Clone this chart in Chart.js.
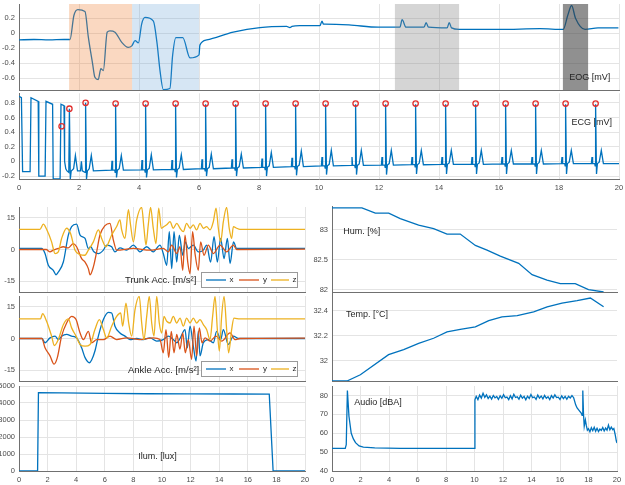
<!DOCTYPE html>
<html><head><meta charset="utf-8">
<script src="https://cdn.jsdelivr.net/npm/chart.js@4/dist/chart.umd.min.js"></script>
<style>
html,body{margin:0;padding:0;background:#fff;overflow:hidden;width:625px;height:485px;position:relative}
canvas{position:absolute}
</style></head><body>
<script>
// ---------------- DATA ----------------
const xTicks = [0,2,4,6,8,10,12,14,16,18,20];
const eogTicks = [-0.6,-0.4,-0.2,0,0.2];
const ecgTicks = [-0.2,0,0.2,0.4,0.6,0.8];
const accTicks = [-15,0,15];
const illumTicks = [0,1000,2000,3000,4000,5000];
const humTicks = [82,82.5,83];
const tempTicks = [32,32.2,32.4];
const audioTicks = [40,50,60,70,80];

const eogBands = [[1.67,3.77],[3.77,6.0],[12.53,14.67],[18.13,18.97]];

const eogPts = [[0,-0.09],[0.5,-0.085],[1.0,-0.09],[1.5,-0.085],[1.7,-0.085],[1.83,0.236],[1.96,0.316],[2.2,0.29],[2.31,-0.05],[2.45,-0.4],[2.53,-0.59],[2.64,-0.62],[2.73,-0.475],[2.81,-0.5],[2.94,0.013],[3.03,0.03],[3.2,0.013],[3.42,-0.12],[3.64,-0.19],[3.76,-0.17],[3.87,-0.1],[3.98,-0.13],[4.09,0.125],[4.2,0.21],[4.48,0.16],[4.6,-0.13],[4.7,-0.5],[4.81,-0.755],[5.03,-0.74],[5.12,-0.3],[5.23,-0.06],[5.46,-0.06],[5.7,-0.33],[6.0,-0.29],[6.03,-0.16],[6.26,-0.09],[7.14,0.013],[8.03,0.075],[8.92,0.09],[9.03,0.075],[9.1,0.09],[9.36,0.1],[10.03,0.1],[10.1,0.16],[10.15,0.12],[10.2,0.12],[11.0,0.11],[11.98,0.08],[12.7,0.08],[12.77,0.18],[12.9,0.08],[13.5,0.08],[13.57,0.14],[13.65,0.08],[14.27,0.07],[14.34,0.14],[14.42,0.07],[14.67,0.05],[16.03,0.05],[17.37,0.06],[18.14,0.05],[18.3,0.25],[18.42,0.37],[18.55,0.2],[18.87,0.05],[19.3,0.07],[19.98,0.07]];

const ecgPts = [[0,0.89],[0.08,0.87],[0.12,-0.14],[0.37,-0.14],[0.4,0.87],[0.64,0.82],[0.66,-0.2],[0.87,-0.2],[0.9,0.82],[1.12,0.78],[1.14,-0.24],[1.37,-0.24],[1.4,0.78],[1.5,0.76],[1.52,0.0],[1.56,-0.1],[1.6,-0.13],[1.66,-0.15],[1.68,0.72],[1.71,-0.24],[1.74,-0.13],[1.82,-0.1],[1.88,0.08],[1.95,-0.13],[2.05,-0.13],[2.08,0.0],[2.11,-0.13],[2.2,-0.15],[2.22,0.8],[2.25,-0.24],[2.28,-0.13],[2.34,-0.1],[2.41,0.08],[2.48,-0.13],
[3.08,-0.12],[3.1,0.01],[3.12,-0.12],[3.19,-0.12],[3.205,-0.15],[3.22,0.78],[3.25,-0.22],[3.28,-0.12],[3.34,-0.1],[3.41,0.08],[3.48,-0.12],
[4.08,-0.115],[4.1,0.02],[4.12,-0.115],[4.19,-0.115],[4.205,-0.145],[4.22,0.78],[4.25,-0.22],[4.28,-0.115],[4.34,-0.095],[4.41,0.09],[4.48,-0.115],
[5.08,-0.11],[5.1,0.02],[5.12,-0.11],[5.19,-0.11],[5.205,-0.14],[5.22,0.78],[5.25,-0.22],[5.28,-0.11],[5.34,-0.09],[5.41,0.09],[5.48,-0.11],
[6.08,-0.1],[6.1,0.03],[6.12,-0.1],[6.19,-0.1],[6.205,-0.13],[6.22,0.78],[6.25,-0.2],[6.28,-0.1],[6.34,-0.08],[6.41,0.1],[6.48,-0.1],
[7.08,-0.09],[7.1,0.03],[7.12,-0.09],[7.19,-0.09],[7.205,-0.12],[7.22,0.78],[7.25,-0.2],[7.28,-0.09],[7.34,-0.07],[7.41,0.1],[7.48,-0.09],
[8.08,-0.08],[8.1,0.04],[8.12,-0.08],[8.19,-0.08],[8.205,-0.11],[8.22,0.78],[8.25,-0.2],[8.28,-0.08],[8.34,-0.06],[8.41,0.12],[8.48,-0.08],
[9.08,-0.07],[9.1,0.05],[9.12,-0.07],[9.19,-0.07],[9.205,-0.1],[9.22,0.78],[9.25,-0.19],[9.28,-0.07],[9.34,-0.05],[9.41,0.14],[9.48,-0.07],
[10.08,-0.06],[10.1,0.06],[10.12,-0.06],[10.19,-0.06],[10.205,-0.09],[10.22,0.78],[10.25,-0.18],[10.28,-0.06],[10.34,-0.04],[10.41,0.15],[10.48,-0.06],
[11.08,-0.055],[11.1,0.06],[11.12,-0.055],[11.19,-0.055],[11.205,-0.085],[11.22,0.78],[11.25,-0.18],[11.28,-0.055],[11.34,-0.035],[11.41,0.15],[11.48,-0.055],
[12.08,-0.05],[12.1,0.06],[12.12,-0.05],[12.19,-0.05],[12.205,-0.08],[12.22,0.78],[12.25,-0.18],[12.28,-0.05],[12.34,-0.03],[12.41,0.15],[12.48,-0.05],
[13.08,-0.045],[13.1,0.06],[13.12,-0.045],[13.19,-0.045],[13.205,-0.075],[13.22,0.78],[13.25,-0.17],[13.28,-0.045],[13.34,-0.025],[13.41,0.15],[13.48,-0.045],
[14.08,-0.04],[14.1,0.06],[14.12,-0.04],[14.19,-0.04],[14.205,-0.07],[14.22,0.78],[14.25,-0.17],[14.28,-0.04],[14.34,-0.02],[14.41,0.15],[14.48,-0.04],
[15.08,-0.04],[15.1,0.06],[15.12,-0.04],[15.19,-0.04],[15.205,-0.07],[15.22,0.78],[15.25,-0.17],[15.28,-0.04],[15.34,-0.02],[15.41,0.15],[15.48,-0.04],
[16.08,-0.035],[16.1,0.06],[16.12,-0.035],[16.19,-0.035],[16.205,-0.065],[16.22,0.78],[16.25,-0.17],[16.28,-0.035],[16.34,-0.015],[16.41,0.15],[16.48,-0.035],
[17.08,-0.035],[17.1,0.06],[17.12,-0.035],[17.19,-0.035],[17.205,-0.065],[17.22,0.78],[17.25,-0.17],[17.28,-0.035],[17.34,-0.015],[17.41,0.15],[17.48,-0.035],
[18.08,-0.03],[18.1,0.06],[18.12,-0.03],[18.19,-0.03],[18.205,-0.06],[18.22,0.78],[18.25,-0.17],[18.28,-0.03],[18.34,-0.01],[18.41,0.15],[18.48,-0.03],
[19.08,-0.03],[19.1,0.06],[19.12,-0.03],[19.19,-0.03],[19.205,-0.06],[19.22,0.78],[19.25,-0.17],[19.28,-0.03],[19.34,-0.01],[19.41,0.15],[19.48,-0.03],
[20,-0.03]];

const ecgPeaks = [[1.42,0.48],[1.68,0.72],[2.22,0.8],[3.22,0.79],[4.22,0.79],[5.22,0.79],[6.22,0.79],[7.22,0.79],[8.22,0.79],[9.22,0.79],[10.22,0.79],[11.22,0.79],[12.22,0.79],[13.22,0.79],[14.22,0.79],[15.22,0.79],[16.22,0.79],[17.22,0.79],[18.22,0.79],[19.22,0.79]];

const trunkX = [[0,0.5],[1.58,0.5],[1.82,-1.9],[2.05,-7.4],[2.4,-9.8],[2.59,-11.9],[2.75,-10.6],[3.1,-5.9],[3.45,6.8],[3.68,10.8],[4.03,11.9],[4.27,6.8],[4.62,5.2],[4.85,0.5],[5.01,1.3],[5.24,-1.1],[5.55,-1.9],[5.9,-0.3],[6.13,2.1],[6.48,1.3],[6.71,-1.1],[7.06,0.8],[7.53,-0.3],[8.0,2.1],[8.46,-1.1],[8.93,1.3],[9.39,-1.1],[9.86,2.1],[10.09,-1.9],[10.33,-7.4],[10.51,8.4],[10.68,-9],[10.84,8.4],[11.03,-5.9],[11.21,6.8],[11.45,-2.7],[11.63,3.6],[11.84,0.5],[12.19,2.1],[12.54,-1.1],[12.89,-0.3],[13.12,2.1],[13.4,-5.9],[13.64,6],[13.87,-5.9],[14.1,5.2],[14.34,-4.3],[14.57,5.2],[14.76,-6.6],[15.0,3.6],[15.22,0.5],[20,0.5]];
const trunkY = [[0,0],[1.9,0],[2.17,-1.1],[2.4,-0.3],[2.75,0.5],[3.1,1.3],[3.45,0.8],[3.8,2.8],[4.03,1.3],[4.38,-4.3],[4.62,-5.9],[4.85,-9],[4.97,-11.9],[5.2,-8.2],[5.43,-1.1],[5.66,6.8],[6.01,11.2],[6.36,12.3],[6.6,4.4],[6.83,-0.3],[8,0.5],[9.16,-0.3],[10.09,0.5],[10.44,-1.1],[10.68,2.1],[11.03,-1.9],[11.26,1.3],[11.45,-9.8],[11.61,6.8],[11.8,-5.9],[11.96,-11.4],[12.14,8.4],[12.31,-1.9],[12.54,-9.8],[12.7,3.6],[12.94,-2.7],[13.24,2.1],[13.59,-1.9],[14.06,2.1],[14.52,-1.1],[14.99,2.1],[15.22,0],[20,0.2]];
const trunkZ = [[0,9.5],[1.47,9.5],[1.7,11.9],[1.93,9.5],[2.28,3.6],[2.52,-1.9],[2.75,-1.1],[2.98,5.2],[3.33,10],[3.6,7.6],[3.92,-0.3],[4.27,-2.4],[4.6,-2.7],[4.85,-0.3],[5.2,3.6],[5.55,9.2],[5.78,5.2],[6.08,1.3],[6.48,6.8],[6.83,10.8],[7.06,13.9],[7.18,9.2],[7.41,5.2],[7.65,18.7],[7.8,11.6],[8.0,3.6],[8.23,13.9],[8.58,19.8],[8.74,10],[8.88,2.1],[9.04,11.6],[9.2,19.8],[9.39,10],[9.58,2.8],[9.77,19.5],[9.95,10],[10.14,10.8],[10.33,11.6],[10.56,13.1],[10.79,10],[11.03,12.3],[11.26,10],[11.49,8.4],[11.72,12.3],[11.96,10],[12.19,11.6],[12.42,9.2],[12.66,12.3],[12.89,10],[13.12,10.8],[13.36,9.2],[13.59,13.1],[13.78,19.5],[13.94,10],[14.1,3.6],[14.29,13.1],[14.52,19.8],[14.7,10],[14.87,5.2],[14.99,10.8],[15.22,10],[15.45,9.5],[20,9.5]];

const ankleX = [[0,0],[1.6,0],[1.82,-2],[2.17,0.3],[2.52,1.1],[2.75,-0.5],[2.98,1.1],[3.33,1.9],[3.68,1.1],[4.03,0.3],[4.38,-4.4],[4.62,-9],[4.92,-11.4],[5.08,-10.1],[5.31,-5.9],[5.55,1.1],[5.9,8.9],[6.25,12.3],[6.48,12],[6.71,5.8],[7.06,2.6],[7.41,1.1],[7.76,-0.5],[8.23,0],[8.69,-0.5],[9.16,0.3],[9.63,-1.2],[10.09,-0.5],[10.44,1.1],[10.79,-0.5],[11.03,-2],[11.26,0],[11.61,4.2],[11.77,-4.4],[11.96,5.8],[12.19,-3.6],[12.38,-10.6],[12.54,3.4],[12.66,-8.2],[12.89,-2],[13.24,-0.5],[13.59,-2],[13.82,3.4],[14.1,-0.5],[14.29,4.2],[14.64,-2.8],[14.99,1.1],[15.34,0],[20,0]];
const ankleY = [[0,0],[1.6,0],[1.82,-4.4],[2.17,-8.2],[2.45,-12.1],[2.68,-9],[2.98,1.1],[3.33,7.3],[3.68,10.4],[3.99,8.9],[4.27,2.6],[4.5,-0.5],[4.85,3.4],[5.08,-2],[5.43,-0.5],[5.9,-0.5],[6.36,1.1],[6.83,-0.5],[7.53,0.3],[8.46,-0.5],[9.39,0.3],[9.86,-0.5],[10.09,-6.7],[10.28,4.2],[10.47,-9],[10.65,3.4],[10.84,-6.7],[11.03,1.9],[11.26,-5],[11.45,2.6],[11.63,-6.7],[11.84,-0.5],[12.07,-9.8],[12.24,5.8],[12.42,-8.2],[12.61,5],[12.8,-2],[13.01,0.3],[13.36,-1.2],[13.78,1.1],[14.17,-1.2],[14.76,2.6],[15.1,-0.5],[15.45,0],[20,0.2]];
const ankleZ = [[0,9.2],[1.5,9.2],[1.65,11.7],[1.93,8.1],[2.28,1.1],[2.47,-3.3],[2.75,-0.5],[3.1,6.5],[3.45,9.2],[3.68,5],[3.99,1.1],[4.27,-2.8],[4.62,-3.6],[4.97,-2.8],[5.31,4.2],[5.62,8.9],[5.9,4.2],[6.13,0.3],[6.48,5.8],[6.83,10.4],[7.11,12],[7.25,5.8],[7.48,16.6],[7.67,7.3],[7.88,1.1],[8.11,13.5],[8.41,19.8],[8.58,7.3],[8.74,-0.5],[8.93,10.4],[9.11,19.8],[9.28,7.3],[9.44,1.1],[9.63,19.8],[9.81,7.3],[9.98,2.6],[10.14,10.4],[10.33,8.1],[10.56,7.3],[10.79,10.4],[11.03,7.3],[11.26,9.6],[11.49,5.8],[11.72,9.6],[11.96,7.3],[12.19,9.6],[12.42,7.3],[12.66,8.9],[12.89,6.5],[13.12,4.2],[13.36,-0.5],[13.54,10.4],[13.71,19.8],[13.87,4.2],[14.01,-5.9],[14.17,10.4],[14.34,19.8],[14.52,4.2],[14.66,-6.7],[14.87,4.2],[15.03,9.6],[15.45,9.2],[20,9.2]];

const illumPts = [[0,0],[1.3,0],[1.36,4610],[3,4595],[6,4565],[9,4545],[12,4535],[15,4530],[17.5,4525],[17.77,0],[20,0]];
const humPts = [[0,83.37],[2.1,83.37],[3.04,83.28],[3.98,83.28],[4.79,83.19],[6.08,83.08],[7.13,83.02],[8.07,82.93],[9.0,82.93],[10.06,82.74],[10.88,82.66],[11.81,82.56],[13.1,82.44],[14.04,82.25],[15.09,82.16],[16.02,82.1],[17.07,82.1],[18.0,82.0],[19.06,81.96]];
const tempPts = [[0,31.84],[1.05,31.84],[1.99,31.89],[3.97,32.05],[5.03,32.09],[6.08,32.14],[7.13,32.18],[8.07,32.23],[9.0,32.25],[10.06,32.27],[11.0,32.32],[11.93,32.35],[13.0,32.36],[14.15,32.39],[15.1,32.43],[16.14,32.46],[17.2,32.48],[18.13,32.5],[19.06,32.43]];
const audioPts = [[0,52],[0.93,52],[1.0,54],[1.08,82.6],[1.19,69],[1.35,60],[1.5,57],[1.65,55],[1.9,53.3],[2.2,52.6],[3,52.2],[4.8,52],[10.0,52],[10.03,77.7],
[10.12,79.5],[10.24,77.8],[10.36,80.2],[10.48,78.6],[10.6,81.1],[10.72,79.0],[10.84,80.3],[10.96,78.4],[11.08,79.6],[11.2,78.1],[11.32,80.0],[11.44,78.7],[11.56,79.4],[11.68,77.9],[11.8,79.8],[11.92,78.5],[12.04,80.4],[12.16,78.8],[12.28,79.1],[12.4,77.8],[12.52,79.9],[12.64,78.2],[12.76,80.6],[12.88,78.9],[13.0,79.3],[13.12,78.0],[13.24,80.1],[13.36,78.6],[13.48,79.5],[13.6,77.7],[13.72,79.6],[13.84,78.4],[13.96,80.5],[14.08,78.8],[14.2,79.2],[14.32,77.9],[14.44,80.2],[14.56,78.6],[14.68,79.7],[14.8,78.2],[14.92,80.0],[15.04,78.5],[15.16,79.3],[15.28,77.8],[15.4,79.9],[15.52,78.6],[15.64,80.3],[15.76,78.9],[15.88,79.1],[16.0,77.9],[16.12,79.8],[16.24,78.3],[16.36,79.5],[16.48,78.0],[16.6,79.6],[16.72,78.7],[16.84,79.9],[16.96,78.8],
[17.1,75],[17.2,73.4],[17.35,72],[17.5,70.5],[17.55,69.5],[17.6,82.6],[17.65,70],[17.7,63.7],[17.78,67],[17.85,64],[17.92,61.6],
[18.0,62.4],[18.1,60.8],[18.2,62.9],[18.3,61.3],[18.4,63.1],[18.5,61.0],[18.6,62.6],[18.7,60.9],[18.8,62.2],[18.9,61.5],[19.0,63.0],[19.1,61.2],[19.2,62.7],[19.3,61.6],[19.4,64.3],[19.5,61.8],[19.6,63.2],[19.7,61.9],[19.78,62.5],[19.88,59],[19.95,56],[20,54.8]];

// ---------------- STYLE ----------------
const BLUE='#0072BD', ORANGE='#D95319', YELLOW='#EDB120';
const FONT = "'Liberation Sans', Arial, sans-serif";
const GRID = '#e4e4e4', AXIS = '#707070', TICKC = '#4a4a4a', TEXTC = '#262626';
const TICK_FS = 7.5;

function pts(a){ return a.map(p => ({x:p[0], y:p[1]})); }
function line(a, color, order, smooth){
  const d = {data:pts(a), borderColor:color, borderWidth:1.3, pointRadius:0, tension:0, order:order||0};
  if (smooth) { d.cubicInterpolationMode = 'monotone'; }
  return d;
}

function textPlugin(items, hook){
  return { id:'txt'+Math.random().toString(36).slice(2), [hook||'afterDatasetsDraw'](chart){
    const ctx = chart.ctx, xs = chart.scales.x, ys = chart.scales.y;
    ctx.save();
    items.forEach(it=>{
      ctx.font = (it.size||9)+'px '+FONT;
      ctx.fillStyle = TEXTC; ctx.textAlign='left'; ctx.textBaseline='middle';
      ctx.fillText(it.text, xs.getPixelForValue(it.x), ys.getPixelForValue(it.y));
    });
    ctx.restore();
  }};
}
function bandPlugin(bands, colors){
  return { id:'bands', afterDatasetsDraw(chart){
    const ctx = chart.ctx, xs = chart.scales.x, a = chart.chartArea;
    ctx.save();
    bands.forEach((b,i)=>{
      const x0 = xs.getPixelForValue(b[0]), x1 = xs.getPixelForValue(b[1]);
      ctx.fillStyle = colors[i];
      ctx.fillRect(x0, a.top, x1-x0, a.bottom-a.top);
    });
    ctx.restore();
  }};
}
function legendPlugin(){
  return { id:'leg', afterDatasetsDraw(chart){
    const ctx = chart.ctx, a = chart.chartArea;
    const w = 97, h = 16, bx = a.right - 7 - w, by = a.bottom - 4 - h;
    ctx.save();
    ctx.fillStyle = '#fff'; ctx.fillRect(bx, by, w, h);
    ctx.strokeStyle = '#9a9a9a'; ctx.lineWidth = 1; ctx.strokeRect(bx+0.5, by+0.5, w-1, h-1);
    const items = [[BLUE,5,25,'x',28.5],[ORANGE,38,58,'y',62],[YELLOW,70,88,'z',91.5]];
    ctx.font = '8px '+FONT; ctx.textBaseline='middle'; ctx.textAlign='left';
    items.forEach(it=>{
      ctx.strokeStyle = it[0]; ctx.lineWidth = 1.3;
      ctx.beginPath(); ctx.moveTo(bx+it[1], by+h/2); ctx.lineTo(bx+it[2], by+h/2); ctx.stroke();
      ctx.fillStyle = TEXTC; ctx.fillText(it[3], bx+it[4], by+h/2);
    });
    ctx.restore();
  }};
}

function panel(g, datasets, yMin, yMax, yTicks, opts){
  opts = opts || {};
  const padL = 40, padR = 12, padT = 4, xh = g.xl ? 16 : 1;
  const w = g.R - g.L + padL + padR, h = g.B - g.T + padT + xh;
  const c = document.createElement('canvas');
  c.width = w; c.height = h;
  c.style.left = (g.L - padL)+'px'; c.style.top = (g.T - padT)+'px';
  c.style.width = w+'px'; c.style.height = h+'px';
  document.body.appendChild(c);
  return new Chart(c, {
    type:'line',
    data:{datasets},
    options:{
      responsive:false, animation:false, devicePixelRatio:1,
      layout:{padding:{left:0, top:padT, right:padR, bottom:0}},
      plugins:{legend:{display:false}, tooltip:{enabled:false}},
      scales:{
        x:{type:'linear', min:0, max:20,
          afterBuildTicks: s => { s.ticks = xTicks.map(v => ({value:v})); },
          afterFit: s => { s.height = xh; s.paddingLeft = 0; s.paddingRight = 0; s.paddingTop = 0; s.paddingBottom = 0; },
          grid:{display: opts.xGrid !== false, color:GRID, drawTicks:false},
          border:{color:AXIS, width:1},
          ticks:{display: !!g.xl, padding:4, maxRotation:0, autoSkip:false, color:TICKC, font:{size:TICK_FS, family:FONT}, callback:v => String(v)}
        },
        y:{type:'linear', min:yMin, max:yMax,
          afterBuildTicks: s => { s.ticks = yTicks.map(v => ({value:v})); },
          afterFit: s => { s.width = padL; s.paddingTop = 0; s.paddingBottom = 0; s.paddingLeft = 0; s.paddingRight = 0; },
          grid:{color:GRID, drawTicks:false},
          border:{color:AXIS, width:1},
          ticks:{padding:4, autoSkip:false, color:TICKC, font:{size:TICK_FS, family:FONT}, callback:v => String(v)}
        }
      }
    },
    plugins: opts.plugins || []
  });
}

// ---------------- PANELS ----------------
panel({L:19,R:619,T:4,B:90}, [line(eogPts, BLUE, 0, true)], -0.76, 0.39, eogTicks,
  {plugins:[bandPlugin(eogBands, ['rgba(237,125,49,0.3)','rgba(91,155,213,0.25)','rgba(128,128,128,0.33)','rgba(64,64,64,0.58)']),
            textPlugin([{text:'EOG [mV]', x:18.34, y:-0.59}])]});

panel({L:19,R:619,T:92,B:179,xl:true},
  [{data:pts(ecgPeaks), showLine:false, pointRadius:2.7, pointBorderColor:'#e0302e', pointBackgroundColor:'rgba(0,0,0,0)', pointBorderWidth:1.3, order:0},
   line(ecgPts, BLUE, 1)], -0.24, 0.93, ecgTicks,
  {plugins:[textPlugin([{text:'ECG [mV]', x:18.42, y:0.53}], 'beforeDatasetsDraw')]});

panel({L:19,R:305,T:207,B:292}, [line(trunkX, BLUE, 2, true), line(trunkY, ORANGE, 1, true), line(trunkZ, YELLOW, 0, true)], -20, 20, accTicks,
  {plugins:[textPlugin([{text:'Trunk Acc. [m/s\u00B2]', x:7.41, y:-14.4, size:9.5}]), legendPlugin()]});

panel({L:19,R:305,T:296,B:381}, [line(ankleX, BLUE, 2, true), line(ankleY, ORANGE, 1, true), line(ankleZ, YELLOW, 0, true)], -20, 20, accTicks,
  {plugins:[textPlugin([{text:'Ankle Acc. [m/s\u00B2]', x:7.62, y:-14.8, size:9.5}]), legendPlugin()]});

panel({L:19,R:305,T:386,B:471,xl:true}, [line(illumPts, BLUE)], 0, 5000, illumTicks,
  {plugins:[textPlugin([{text:'Ilum. [lux]', x:8.34, y:880}])]});

panel({L:332,R:617,T:206,B:292}, [line(humPts, BLUE)], 81.96, 83.4, humTicks,
  {xGrid:false, plugins:[textPlugin([{text:'Hum. [%]', x:0.79, y:82.97}])]});

panel({L:332,R:617,T:293,B:381}, [line(tempPts, BLUE)], 31.84, 32.54, tempTicks,
  {xGrid:false, plugins:[textPlugin([{text:'Temp. [\u00B0C]', x:0.98, y:32.37}])]});

panel({L:332,R:617,T:386,B:471,xl:true}, [line(audioPts, BLUE)], 40, 85, audioTicks,
  {plugins:[textPlugin([{text:'Audio [dBA]', x:1.56, y:76}])]});
</script>
</body></html>
